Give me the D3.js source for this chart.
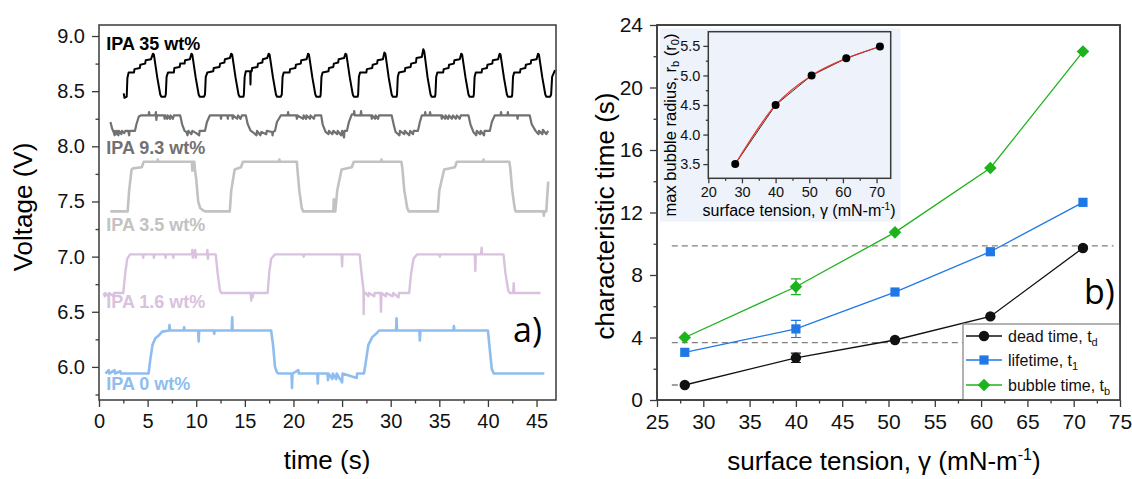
<!DOCTYPE html>
<html><head><meta charset="utf-8">
<script src="https://cdn.jsdelivr.net/npm/d3@7/dist/d3.min.js"></script>
<style>
body{margin:0;background:#fff}
text{font-family:"Liberation Sans",Arial,sans-serif}
</style></head>
<body><svg id="c" width="1132" height="479"></svg>
<script>
// ---------------- DATA ----------------
const timeTicks = [0,5,10,15,20,25,30,35,40,45];
const timeMinor = [2.5,7.5,12.5,17.5,22.5,27.5,32.5,37.5,42.5];
const voltTicks = [6.0,6.5,7.0,7.5,8.0,8.5,9.0];
const voltMinor = [5.75,6.25,6.75,7.25,7.75,8.25,8.75];
const traceLabels = ["IPA 35 wt%","IPA 9.3 wt%","IPA 3.5 wt%","IPA 1.6 wt%","IPA 0 wt%"];
const traceLabelV = [8.87,7.93,7.23,6.53,5.79];

const trace35 = [
[2.54,8.48],[2.62,8.44],[2.85,8.45],[2.92,8.62],[3.05,8.67],[3.6,8.67],[3.65,8.70],[4.2,8.71],[4.25,8.74],[4.75,8.75],[4.8,8.78],[5.35,8.79],[5.55,8.84],[5.65,8.83],[6.0,8.62],[6.3,8.47],[6.4,8.45],[6.8,8.45],
[6.87,8.47],[6.95,8.63],[7.1,8.67],[7.7,8.67],[7.75,8.71],[8.3,8.72],[8.35,8.75],[8.8,8.75],[8.85,8.78],[9.35,8.79],[9.5,8.84],[9.6,8.83],[9.95,8.62],[10.25,8.47],[10.35,8.45],[10.8,8.45],
[10.9,8.47],[10.98,8.63],[11.15,8.67],[11.75,8.68],[11.8,8.71],[12.4,8.72],[12.45,8.75],[12.9,8.76],[12.95,8.79],[13.45,8.80],[13.6,8.84],[13.7,8.83],[14.05,8.62],[14.35,8.47],[14.45,8.45],[14.85,8.45],
[14.9,8.47],[14.98,8.63],[15.1,8.68],[15.55,8.68],[15.58,8.56],[15.61,8.68],[15.7,8.68],[15.75,8.71],[16.3,8.72],[16.35,8.75],[16.8,8.76],[16.85,8.79],[17.3,8.80],[17.45,8.84],[17.55,8.83],[17.9,8.62],[18.2,8.47],[18.3,8.45],[18.7,8.45],
[18.8,8.47],[18.88,8.63],[19.0,8.67],[19.6,8.67],[19.65,8.70],[20.2,8.71],[20.25,8.74],[20.75,8.75],[20.8,8.78],[21.35,8.79],[21.5,8.84],[21.6,8.83],[21.95,8.62],[22.25,8.47],[22.35,8.45],[22.75,8.45],
[22.8,8.47],[22.88,8.63],[23.0,8.67],[23.6,8.68],[23.65,8.71],[24.1,8.72],[24.15,8.75],[24.6,8.76],[24.65,8.79],[25.2,8.80],[25.35,8.84],[25.45,8.83],[25.8,8.62],[26.1,8.47],[26.2,8.45],[26.6,8.45],
[26.65,8.47],[26.73,8.63],[26.85,8.67],[27.5,8.67],[27.55,8.70],[28.1,8.71],[28.15,8.74],[28.6,8.75],[28.65,8.78],[29.2,8.79],[29.35,8.85],[29.45,8.84],[29.8,8.62],[30.1,8.47],[30.2,8.45],[30.6,8.45],
[30.65,8.47],[30.73,8.63],[30.85,8.67],[31.45,8.68],[31.5,8.71],[32.05,8.72],[32.1,8.75],[32.6,8.76],[32.65,8.80],[33.2,8.81],[33.35,8.88],[33.45,8.86],[33.8,8.62],[34.1,8.47],[34.2,8.45],[34.55,8.45],
[34.6,8.47],[34.68,8.63],[34.8,8.67],[35.4,8.67],[35.45,8.70],[35.95,8.71],[36.0,8.74],[36.5,8.75],[36.55,8.78],[37.1,8.79],[37.25,8.84],[37.35,8.83],[37.7,8.62],[38.0,8.47],[38.1,8.45],[38.5,8.45],
[38.55,8.47],[38.63,8.63],[38.75,8.67],[39.35,8.67],[39.4,8.70],[39.9,8.71],[39.95,8.74],[40.45,8.75],[40.5,8.78],[41.05,8.79],[41.2,8.84],[41.3,8.83],[41.65,8.62],[41.95,8.47],[42.05,8.45],[42.45,8.45],
[42.5,8.47],[42.58,8.63],[42.7,8.67],[43.3,8.67],[43.35,8.70],[43.85,8.71],[43.9,8.74],[44.4,8.75],[44.45,8.78],[45.0,8.79],[45.15,8.84],[45.25,8.83],[45.6,8.62],[45.9,8.47],[46.0,8.45],[46.4,8.45],
[46.5,8.47],[46.6,8.63],[46.9,8.69]];

const trace93 = [
[1.18,8.22],[1.35,8.16],[1.5,8.13],[1.6,8.10],[1.65,8.14],[1.8,8.11],[1.85,8.14],[2.0,8.10],[2.05,8.14],[2.3,8.11],[2.35,8.14],[2.6,8.12],[2.7,8.14],[3.0,8.14],[3.1,8.10],[3.15,8.14],[3.7,8.14],[3.85,8.20],[4.1,8.27],[4.3,8.28],
[5.1,8.28],[5.15,8.31],[5.2,8.28],[5.8,8.28],[5.85,8.31],[5.9,8.24],[5.95,8.28],[6.7,8.28],[6.75,8.25],[6.8,8.28],[7.0,8.25],[7.05,8.28],[7.3,8.25],[7.35,8.28],[7.6,8.25],[7.7,8.28],[8.35,8.28],[8.55,8.20],[8.8,8.14],[9.0,8.13],
[9.1,8.10],[9.2,8.14],[9.5,8.11],[9.6,8.14],[10.0,8.12],[10.3,8.10],[10.35,8.14],[10.9,8.14],[11.1,8.22],[11.4,8.28],[12.5,8.28],[12.55,8.25],[12.6,8.28],[13.2,8.28],[13.25,8.25],[13.3,8.28],[13.7,8.28],[13.75,8.25],[13.8,8.28],[14.2,8.25],[14.3,8.28],[14.55,8.25],[14.7,8.28],[15.1,8.28],
[15.3,8.20],[15.6,8.14],[15.8,8.13],[16.2,8.10],[16.25,8.14],[16.6,8.10],[16.7,8.13],[17.2,8.11],[17.25,8.14],[17.8,8.13],[17.85,8.10],[17.9,8.13],[18.1,8.14],[18.3,8.22],[18.7,8.28],
[19.4,8.28],[19.45,8.31],[19.5,8.28],[20.3,8.28],[20.35,8.25],[20.4,8.28],[21.0,8.25],[21.05,8.28],[21.3,8.25],[21.35,8.28],[21.7,8.25],[21.75,8.28],[22.1,8.25],[22.2,8.28],[22.85,8.28],[23.0,8.20],[23.3,8.13],
[23.6,8.11],[23.65,8.14],[24.0,8.11],[24.1,8.14],[24.5,8.11],[24.55,8.14],[24.9,8.10],[25.0,8.14],[25.2,8.08],[25.25,8.14],[25.5,8.14],[25.7,8.22],[26.0,8.29],[26.2,8.29],[26.25,8.32],[26.3,8.28],[26.9,8.28],[26.95,8.32],[27.0,8.28],
[28.0,8.28],[28.05,8.25],[28.1,8.28],[28.4,8.25],[28.45,8.28],[28.7,8.25],[28.8,8.28],[30.1,8.28],[30.3,8.20],[30.5,8.13],[30.9,8.10],[30.95,8.14],[31.4,8.11],[31.45,8.14],[31.9,8.10],[32.0,8.14],[32.3,8.11],[32.35,8.14],[32.8,8.14],[33.0,8.22],[33.2,8.28],
[33.5,8.28],[33.55,8.31],[33.6,8.28],[34.0,8.28],[34.05,8.31],[34.1,8.28],[35.2,8.28],[35.25,8.25],[35.3,8.28],[35.6,8.25],[35.65,8.28],[35.9,8.25],[36.0,8.28],[36.3,8.25],[36.4,8.28],[36.7,8.25],[36.8,8.28],[37.1,8.25],[37.2,8.28],[38.0,8.28],[38.2,8.20],[38.5,8.13],
[38.8,8.10],[38.85,8.14],[39.2,8.11],[39.25,8.14],[39.6,8.10],[39.65,8.14],[40.2,8.14],[40.4,8.22],[40.7,8.28],[41.3,8.28],[41.35,8.31],[41.4,8.28],[42.0,8.28],[42.05,8.31],[42.1,8.28],[43.0,8.28],[43.05,8.25],[43.1,8.28],[44.3,8.28],[44.5,8.20],[44.9,8.14],
[45.2,8.11],[45.25,8.14],[45.6,8.11],[45.65,8.15],[46.0,8.11],[46.2,8.14]];

const trace35b = [
[1.17,7.41],[2.95,7.41],[3.1,7.60],[3.35,7.79],[3.5,7.80],[4.4,7.81],[4.6,7.86],[6.0,7.86],[6.05,7.88],[6.1,7.86],[9.55,7.86],[9.6,7.78],[9.65,7.86],[9.8,7.86],[9.85,7.80],[10.0,7.70],[10.2,7.50],[10.4,7.44],[10.7,7.42],[10.9,7.41],
[13.45,7.41],[13.6,7.60],[13.95,7.79],[14.6,7.81],[14.8,7.86],[18.5,7.86],[18.55,7.88],[18.6,7.86],[20.35,7.86],[20.4,7.80],[20.6,7.60],[20.85,7.44],[21.0,7.41],
[24.1,7.41],[24.15,7.52],[24.2,7.41],[24.3,7.41],[24.5,7.60],[24.95,7.79],[26.0,7.81],[26.2,7.86],[29.0,7.86],[29.05,7.88],[29.1,7.86],[31.1,7.86],[31.2,7.80],[31.4,7.60],[31.7,7.44],[31.85,7.41],
[34.85,7.41],[35.0,7.60],[35.5,7.79],[36.6,7.81],[36.8,7.86],[39.5,7.86],[39.55,7.88],[39.6,7.86],[42.2,7.86],[42.3,7.80],[42.5,7.60],[42.75,7.44],[42.85,7.41],[45.7,7.41],[45.75,7.37],[45.8,7.41],[46.0,7.41],[46.2,7.68]];

const trace16 = [
[0.48,6.67],[0.6,6.64],[0.65,6.67],[1.0,6.64],[1.05,6.67],[1.5,6.64],[1.55,6.67],[2.5,6.67],[2.7,6.85],[2.9,6.98],[3.2,7.02],[4.5,7.02],[4.55,6.99],[4.6,7.02],[5.6,7.02],[5.65,6.99],[5.7,7.02],[6.8,7.02],[6.85,6.99],[6.9,7.02],[7.6,7.02],[7.65,6.99],[7.7,7.02],
[9.55,7.02],[9.6,7.06],[9.65,6.99],[9.7,7.02],[9.9,7.06],[9.95,6.99],[10.0,7.02],[11.1,7.02],[11.15,7.06],[11.2,6.98],[11.25,7.02],[12.0,7.02],[12.2,6.85],[12.45,6.69],[12.6,6.67],
[15.6,6.67],[15.65,6.60],[15.7,6.67],[15.8,6.63],[15.85,6.67],[17.35,6.67],[17.5,6.85],[17.7,6.98],[18.1,7.02],[21.0,7.02],[21.05,7.00],[21.1,7.02],[24.95,7.02],[25.0,6.91],[25.05,7.02],[26.8,7.02],[27.0,6.85],[27.2,6.70],[27.22,6.48],[27.25,6.68],[27.4,6.67],
[27.7,6.64],[27.75,6.67],[28.3,6.64],[28.35,6.67],[28.95,6.67],[29.0,6.50],[29.05,6.67],[29.5,6.64],[29.55,6.67],[30.2,6.64],[30.25,6.67],[30.8,6.63],[30.85,6.67],[31.9,6.67],[32.1,6.85],[32.35,6.98],[32.7,7.02],
[35.0,7.02],[35.05,7.00],[35.1,7.02],[38.65,7.02],[38.7,6.87],[38.75,7.02],[39.3,7.02],[39.35,7.08],[39.4,7.02],[41.6,7.02],[41.8,6.85],[42.1,6.69],[42.25,6.67],[42.6,6.67],[42.65,6.76],[42.7,6.67],[45.4,6.67]];

const trace0 = [
[0.66,5.94],[1.0,5.97],[1.05,5.94],[1.6,5.97],[1.65,5.94],[2.2,5.96],[2.25,5.94],[5.1,5.94],[5.25,6.05],[5.5,6.20],[5.8,6.26],[6.2,6.29],[6.5,6.32],[7.2,6.33],[7.25,6.38],[7.3,6.33],[8.7,6.33],[8.75,6.36],[8.8,6.33],[10.2,6.33],[10.25,6.23],[10.3,6.33],[11.8,6.33],[11.85,6.30],[11.9,6.33],[13.65,6.33],[13.7,6.45],[13.75,6.33],
[17.7,6.33],[17.9,6.20],[18.1,6.00],[18.3,5.95],[18.5,5.94],[19.8,5.94],[19.85,5.81],[19.9,5.94],[20.5,5.97],[20.55,5.94],[22.45,5.94],[22.5,5.85],[22.55,5.94],[23.5,5.94],[23.55,5.88],[23.6,5.94],[24.0,5.89],[24.05,5.94],[24.4,5.89],[24.45,5.94],[25.0,5.86],[25.05,5.94],[26.5,5.90],[26.55,5.94],
[27.25,5.94],[27.45,6.05],[27.7,6.20],[28.1,6.27],[28.5,6.30],[28.8,6.33],[30.55,6.33],[30.6,6.44],[30.65,6.33],[32.95,6.33],[33.0,6.24],[33.05,6.33],[36.45,6.33],[36.5,6.37],[36.55,6.33],[40.0,6.33],[40.2,6.15],[40.4,5.98],[40.6,5.94],[45.8,5.94]];

// panel b
const gammaTicks = [25,30,35,40,45,50,55,60,65,70,75];
const gammaMinor = [27.5,32.5,37.5,42.5,47.5,52.5,57.5,62.5,67.5,72.5];
const timeBTicks = [0,4,8,12,16,20,24];
const timeBMinor = [2,6,10,14,18,22];
const gamma = [28,40,50.7,61,71];
const deadTime = [0.96,2.7,3.84,5.35,9.73];
const deadErr  = [0,0.3,0,0,0];
const lifeTime = [3.05,4.55,6.91,9.49,12.65];
const lifeErr  = [0,0.55,0,0,0];
const bubbleTime = [4.0,7.25,10.73,14.85,22.3];
const bubbleErr  = [0,0.5,0,0,0];
const seriesNames = ["dead time, t","lifetime, t","bubble time, t"];
const seriesSubs = ["d","1","b"];
const dashedLevels = [9.86,3.67,0.96];
const dashedEnds = [74.3,58,28];
// inset
const insetGammaTicks = [20,30,40,50,60,70];
const insetGammaMinor = [25,35,45,55,65];
const radiusTicks = [3.5,4.0,4.5,5.0,5.5];
const radiusMinor = [3.75,4.25,4.75,5.25];
const bubbleRadius = [3.5,4.5,5.0,5.29,5.49];

// ---------------- DRAW ----------------
const svg = d3.select("#c");
const AX = "#3a3a3a";

function drawAxes(xs, ys, xMaj, xMin, yMaj, yMin, xFmt, yFmt, fs, tl, pad){
  const [x0,x1] = xs.range(); const [y1,y0] = ys.range();
  const gx = svg.append("g").attr("transform",`translate(0,${y1})`);
  gx.call(d3.axisBottom(xs).tickValues(xMin).tickSize(tl/2).tickFormat(""));
  gx.call(g=>g.select(".domain").remove());
  const gx2 = svg.append("g").attr("transform",`translate(0,${y1})`)
    .call(d3.axisBottom(xs).tickValues(xMaj).tickSize(tl).tickPadding(pad).tickFormat(xFmt));
  gx2.select(".domain").remove();
  gx2.selectAll("text").attr("font-size",fs).attr("fill","#111");
  const gy = svg.append("g").attr("transform",`translate(${x0},0)`);
  gy.call(d3.axisLeft(ys).tickValues(yMin).tickSize(tl/2).tickFormat(""));
  gy.call(g=>g.select(".domain").remove());
  const gy2 = svg.append("g").attr("transform",`translate(${x0},0)`)
    .call(d3.axisLeft(ys).tickValues(yMaj).tickSize(tl).tickPadding(pad).tickFormat(yFmt));
  gy2.select(".domain").remove();
  gy2.selectAll("text").attr("font-size",fs).attr("fill","#111");
  svg.selectAll(".tick line").attr("stroke",AX).attr("stroke-width",1.3);
  svg.append("rect").attr("x",x0).attr("y",y0).attr("width",x1-x0).attr("height",y1-y0)
    .attr("fill","none").attr("stroke",AX).attr("stroke-width",1.5);
}

// ---- panel a ----
const xL = d3.scaleLinear().domain([0,47]).range([99,556]);
const yL = d3.scaleLinear().domain([5.7,9.1]).range([400,25]);
const lineL = d3.line().x(d=>xL(d[0])).y(d=>yL(d[1]));
const traces = [trace35,trace93,trace35b,trace16,trace0];
const traceColors = ["#000000","#717171","#c2c2c2","#d8c2de","#8fbdf0"];
const traceWidths = [2,2.2,2.6,2.4,2.6];
traces.forEach((t,i)=>{
  svg.append("path").attr("d",lineL(t)).attr("fill","none").attr("stroke",traceColors[i])
    .attr("stroke-width",traceWidths[i]).attr("stroke-linejoin","round");
});
traceLabels.forEach((s,i)=>{
  svg.append("text").attr("x",xL(0.75)).attr("y",yL(traceLabelV[i])).text(s)
    .attr("font-size",18).attr("font-weight","bold").attr("fill",i===0?"#000":traceColors[i]);
});
drawAxes(xL,yL,timeTicks,timeMinor,voltTicks,voltMinor,d3.format("d"),d3.format(".1f"),20,7,7);
svg.append("text").attr("x",327).attr("y",469).attr("text-anchor","middle").attr("font-size",26).text("time (s)");
svg.append("text").attr("transform","translate(32,207) rotate(-90)").attr("text-anchor","middle").attr("font-size",26).text("Voltage (V)");
svg.append("text").attr("x",513).attr("y",342).attr("font-size",34).style("font-family","'Open Sans',sans-serif").text("a)");

// ---- panel b ----
const xR = d3.scaleLinear().domain([25,75]).range([657,1120]);
const yR = d3.scaleLinear().domain([0,24]).range([400,25]);

// inset background
svg.append("rect").attr("x",660).attr("y",28.5).attr("width",240.5).attr("height",193).attr("fill","#edf2fb");

// dashed guide lines
dashedLevels.forEach((v,i)=>{
  svg.append("line").attr("x1",xR(26.6)).attr("x2",xR(dashedEnds[i])).attr("y1",yR(v)).attr("y2",yR(v))
    .attr("stroke","#808080").attr("stroke-width",1.3).attr("stroke-dasharray","6,4");
});

const series = [
  {v:deadTime,e:deadErr,c:"#111111",m:"circle"},
  {v:lifeTime,e:lifeErr,c:"#1f78e6",m:"square"},
  {v:bubbleTime,e:bubbleErr,c:"#1db31d",m:"diamond"}];
function marker(g,type,x,y,c,s){
  if(type==="circle") g.append("circle").attr("cx",x).attr("cy",y).attr("r",5.2*s).attr("fill",c);
  else if(type==="square") g.append("rect").attr("x",x-4.6*s).attr("y",y-4.6*s).attr("width",9.2*s).attr("height",9.2*s).attr("fill",c);
  else g.append("path").attr("d",`M${x},${y-6.3*s}L${x+6.3*s},${y}L${x},${y+6.3*s}L${x-6.3*s},${y}Z`).attr("fill",c);
}
const lineR = d3.line().x(d=>xR(d[0])).y(d=>yR(d[1]));
series.forEach(s=>{
  const pts = gamma.map((g,i)=>[g,s.v[i]]);
  svg.append("path").attr("d",lineR(pts)).attr("fill","none").attr("stroke",s.c).attr("stroke-width",1.3);
  gamma.forEach((g,i)=>{
    if(s.e[i]>0){
      const x=xR(g), ya=yR(s.v[i]+s.e[i]), yb=yR(s.v[i]-s.e[i]);
      svg.append("path").attr("d",`M${x},${ya}V${yb}M${x-5},${ya}H${x+5}M${x-5},${yb}H${x+5}`)
        .attr("stroke",s.c).attr("stroke-width",1.2).attr("fill","none");
    }
  });
  gamma.forEach((g,i)=>marker(svg,s.m,xR(g),yR(s.v[i]),s.c,1));
});

drawAxes(xR,yR,gammaTicks,gammaMinor,timeBTicks,timeBMinor,d3.format("d"),d3.format("d"),21,7,7);

// legend
svg.append("rect").attr("x",963).attr("y",324).attr("width",1120-963).attr("height",76)
  .attr("fill","#fff").attr("stroke","#8a8a8a").attr("stroke-width",1.3);
const legY = [336,360,385];
series.forEach((s,i)=>{
  svg.append("line").attr("x1",966).attr("x2",1002).attr("y1",legY[i]).attr("y2",legY[i]).attr("stroke",s.c).attr("stroke-width",1.3);
  marker(svg,s.m,984,legY[i],s.c,1);
  const t = svg.append("text").attr("x",1008).attr("y",legY[i]+6).attr("font-size",16).attr("fill","#111");
  t.append("tspan").text(seriesNames[i]);
  t.append("tspan").attr("dy",4).attr("font-size",11).text(seriesSubs[i]);
});
svg.append("rect").attr("x",657).attr("y",25).attr("width",463).attr("height",375).attr("fill","none").attr("stroke",AX).attr("stroke-width",1.5);

svg.append("text").attr("x",1084).attr("y",304).attr("font-size",34).style("font-family","'Open Sans',sans-serif").text("b)");

// axis labels b
const xlab = svg.append("text").attr("x",884).attr("y",470).attr("text-anchor","middle").attr("font-size",26);
xlab.append("tspan").text("surface tension, γ (mN-m");
xlab.append("tspan").attr("dy",-10).attr("font-size",16).text("-1");
xlab.append("tspan").attr("dy",10).text(")");
svg.append("text").attr("transform","translate(614,216) rotate(-90)").attr("text-anchor","middle").attr("font-size",26).text("characteristic time (s)");

// ---- inset ----
const xI = d3.scaleLinear().domain([20,74.2]).range([708.3,890.7]);
const yI = d3.scaleLinear().domain([3.26,5.74]).range([178.3,31.7]);
drawAxes(xI,yI,insetGammaTicks,insetGammaMinor,radiusTicks,radiusMinor,d3.format("d"),d3.format(".1f"),14.5,5,3);
const lineI = d3.line().x(d=>xI(d[0])).y(d=>yI(d[1]));
const ipts = gamma.map((g,i)=>[g,bubbleRadius[i]]);
svg.append("path").attr("d",lineI(ipts)).attr("fill","none").attr("stroke","#333").attr("stroke-width",1);
svg.append("path").attr("d",lineI.curve(d3.curveMonotoneX)(ipts)).attr("fill","none").attr("stroke","#e8342c").attr("stroke-width",1.2);
ipts.forEach(p=>svg.append("circle").attr("cx",xI(p[0])).attr("cy",yI(p[1])).attr("r",4).attr("fill","#000"));
const ixl = svg.append("text").attr("x",799).attr("y",216).attr("text-anchor","middle").attr("font-size",16);
ixl.append("tspan").text("surface tension, γ (mN-m");
ixl.append("tspan").attr("dy",-6).attr("font-size",10).text("-1");
ixl.append("tspan").attr("dy",6).text(")");
const iyl = svg.append("text").attr("transform","translate(676,125) rotate(-90)").attr("text-anchor","middle").attr("font-size",16.5);
iyl.append("tspan").text("max bubble radius, r");
iyl.append("tspan").attr("dy",3).attr("font-size",11).text("b");
iyl.append("tspan").attr("dy",-3).text(" (r");
iyl.append("tspan").attr("dy",3).attr("font-size",11).text("0");
iyl.append("tspan").attr("dy",-3).text(")");
</script></body></html>
